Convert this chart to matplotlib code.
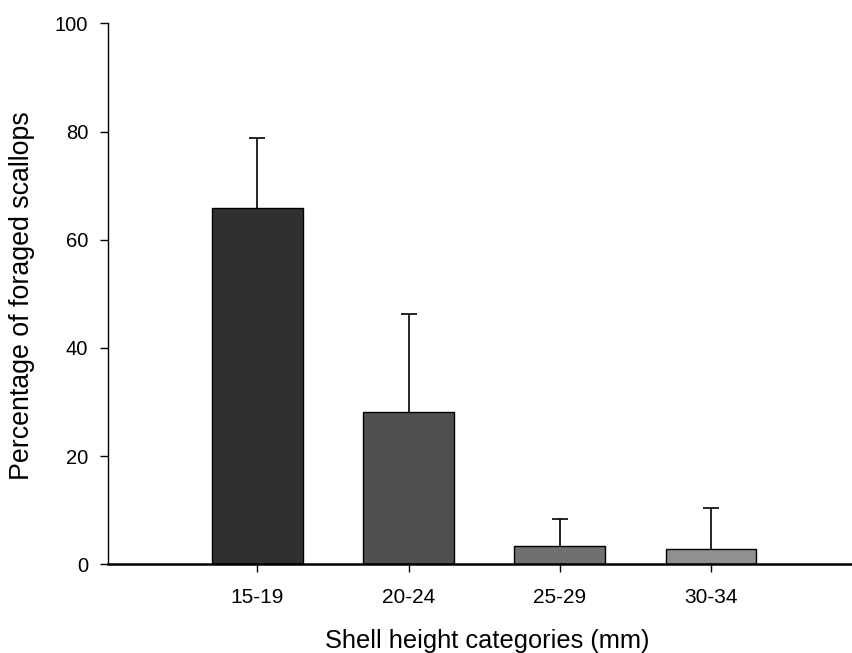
import numpy as np
import matplotlib
matplotlib.use("Agg")
import matplotlib.pyplot as plt

plt.rcParams["font.family"] = ["Liberation Sans", "DejaVu Sans"]

categories = ["15-19", "20-24", "25-29", "30-34"]
means = [65.8, 28.2, 3.4, 2.9]
upper_err = [13.0, 18.0, 5.0, 7.6]
bar_colors = ["#303030", "#505050", "#707070", "#909090"]

fig = plt.figure(figsize=(8.53, 6.53), dpi=100)
ax = fig.add_axes([0.1263, 0.1358, 0.8737, 0.8285])

x = np.arange(len(categories))
ax.bar(x, means, width=0.6, color=bar_colors, edgecolor="black", linewidth=1.0, zorder=2)
_, caps, _ = ax.errorbar(x, means, yerr=[np.zeros(len(means)), upper_err], fmt="none",
                         ecolor="black", elinewidth=1.2, capsize=5.8, capthick=1.2, zorder=1)
# only the upper cap is wanted
caps[0].set_visible(False)

ax.set_xlim(-0.99, 3.94)
ax.set_ylim(0, 100)
ax.set_yticks(np.arange(0, 101, 20))
ax.set_xticks(x)
ax.set_xticklabels(categories)

ax.spines["top"].set_visible(False)
ax.spines["right"].set_visible(False)
ax.spines["bottom"].set_linewidth(1.8)
ax.spines["left"].set_linewidth(1.0)
ax.tick_params(axis="both", direction="out", length=6, width=1.0, labelsize=14.5)
ax.tick_params(axis="x", labelsize=15, pad=11)
ax.tick_params(axis="y", pad=8)

ax.set_xlabel("Shell height categories (mm)", fontsize=18.3)
ax.xaxis.set_label_coords(0.509, -0.1196)
ax.set_ylabel("Percentage of foraged scallops", fontsize=19.3)
ax.yaxis.set_label_coords(-0.098, 0.497)

fig.savefig("out.png", dpi=100)
